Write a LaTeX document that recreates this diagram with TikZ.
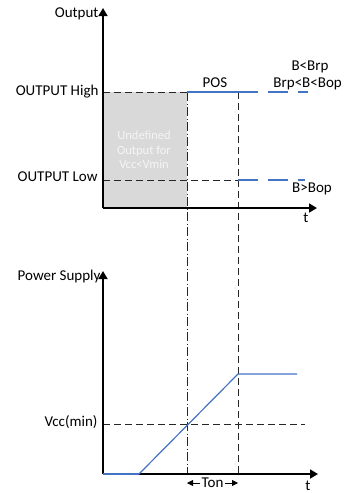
\documentclass[tikz,border=0pt]{standalone}
\usepackage{fontspec}
\setmainfont{Carlito}
\usetikzlibrary{arrows,arrows.meta,positioning,calc}
\definecolor{sigBlue}{RGB}{68,114,196}

\begin{document}
\begin{tikzpicture}[x=1pt,y=-1pt,every text node part/.style={align=center}]
\tikzset{myFont/.style={font=\fontsize{15}{17}\selectfont}}
\tikzset{myAxis/.style={draw,line width=1.7pt,-{Triangle[length=8pt,width=9pt]}}}
\tikzset{myDash/.style={draw,line width=0.8pt,black!85,dash pattern=on 7pt off 4pt}}
\tikzset{myDashDot/.style={draw,line width=0.8pt,black!85,dash pattern=on 9pt off 2.5pt on 1pt off 2.5pt}}
\tikzset{myBlue/.style={draw,line width=1.2pt,sigBlue}}
\tikzset{myBlueDash/.style={myBlue,line width=1.6pt,dash pattern=on 20pt off 10pt}}

\useasboundingbox (0,0) rectangle (344,493);

% output plot
\coordinate (orig1) at (103,208);
\coordinate (top1) at (103,8);
\coordinate (end1) at (317,208);
\coordinate (high0) at (103,92);
\coordinate (highA) at (187,92);
\coordinate (highB) at (238,92);
\coordinate (highC) at (308,92);
\coordinate (low0) at (103,180);
\coordinate (lowB) at (238,180);
\coordinate (lowC) at (305,180);

\fill[black!15] (high0) rectangle (187,208);
\node[text=black!4,font=\fontsize{12.5}{14.5}\selectfont] (undef) at (144,150) {Undefined\\Output for\\Vcc<Vmin};

% power supply plot
\coordinate (orig2) at (103,474);
\coordinate (top2) at (103,271);
\coordinate (end2) at (318,474);
\coordinate (vmin0) at (103,424);
\coordinate (vminC) at (305,424);
\coordinate (rampA) at (139,474);
\coordinate (rampB) at (238,374);
\coordinate (rampC) at (297,374);
\coordinate (onA) at (187,474);
\coordinate (onB) at (238,474);
\coordinate (tonL) at (187,483);
\coordinate (tonR) at (238,483);

% guides
\path[myDash] (high0) -- (highA);
\path[myDash] (low0) -- (lowB);
\path[myDashDot] (highA) -- (onA);
\path[myDash] (highB) -- (onB);
\path[myDash] (vmin0) -- (vminC);

% axes
\path[myAxis] (orig1) -- (top1);
\path[myAxis] (orig1) -- (end1);
\path[myAxis] (orig2) -- (top2);
\path[myAxis] (orig2) -- (end2);

% signals
\path[myBlue] (highA) -- (highB);
\path[myBlueDash] (highB) -- (highC);
\path[myBlueDash] (lowB) -- (lowC);
\path[myBlue,line width=1.8pt] (orig2) -- (rampA);
\path[myBlue] (rampA) -- (rampB) -- (rampC);

% labels
\node[myFont,anchor=east] (outLbl) at (102,14) {Output};
\node[myFont,anchor=east] (highLbl) at (102,92) {OUTPUT High};
\node[myFont,anchor=east] (lowLbl) at (101,177) {OUTPUT Low};
\node[myFont] (posLbl) at (215,83) {POS};
\node[myFont] (brpLbl) at (310,67) {B<Brp};
\node[myFont,anchor=east,inner sep=1pt] (midLbl) at (343,84) {Brp<B<Bop};
\node[myFont] (bopLbl) at (312,189) {B>Bop};
\node[myFont] (t1) at (306,218) {t};
\node[myFont,anchor=east] (psLbl) at (104,276) {Power Supply};
\node[myFont,anchor=east] (vminLbl) at (101,422) {Vcc(min)};
\node[myFont] (t2) at (308,486) {t};

\node[myFont,inner sep=1pt] (ton) at (212.5,483) {Ton};
\path[draw,line width=0.8pt,-{Triangle[length=6pt,width=6pt]}] (ton.west) -- (tonL);
\path[draw,line width=0.8pt,-{Triangle[length=6pt,width=6pt]}] (ton.east) -- (tonR);

\end{tikzpicture}
\end{document}
